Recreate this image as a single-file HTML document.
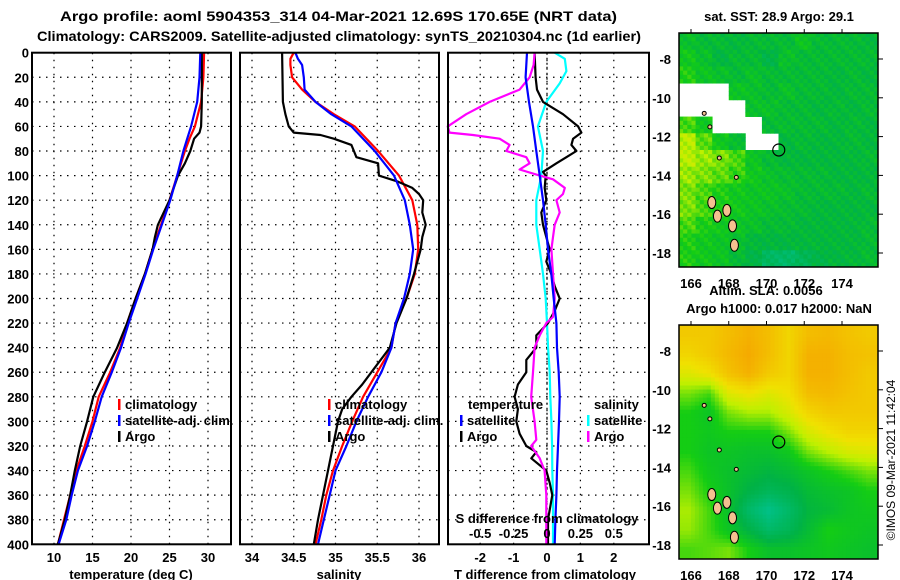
<!DOCTYPE html>
<html><head><meta charset="utf-8">
<style>
body{margin:0;background:#fff;}
svg{display:block;font-family:"Liberation Sans",Arial,sans-serif;font-weight:bold;}
text{font-size:13px;fill:#000;}
</style></head>
<body>
<svg id="chart" width="900" height="580" viewBox="0 0 900 580" xmlns="http://www.w3.org/2000/svg">
<text x="60" y="21" textLength="557" lengthAdjust="spacingAndGlyphs" style="font-size:14px">Argo profile: aoml 5904353_314 04-Mar-2021 12.69S 170.65E (NRT data)</text>
<text x="37" y="41" textLength="604" lengthAdjust="spacingAndGlyphs" style="font-size:14px">Climatology: CARS2009. Satellite-adjusted climatology: synTS_20210304.nc (1d earlier)</text>
<g id="panels"></g>
<g id="maps"></g>
<text transform="translate(895,460) rotate(-90)" text-anchor="middle" style="font-weight:normal;font-size:12px">©IMOS 09-Mar-2021 11:42:04</text>
</svg>
<script>
// ---- depth axis ----
const depthTicks=[0,20,40,60,80,100,120,140,160,180,200,220,240,260,280,300,320,340,360,380,400];
// ---- temperature panel data ----
const tempTicks=[10,15,20,25,30];
const tDepths=[0,20,40,60,70,80,90,100,120,140,160,180,200,220,240,260,280,300,320,340,360,380,400];
const tempClim=[29.5,29.4,29.1,28.3,27.6,27.0,26.5,26.0,25.0,23.9,22.8,21.8,20.6,19.5,18.6,17.3,15.8,15.0,14.0,12.9,12.1,11.3,10.5];
const tempSat=[29.0,28.9,28.6,27.8,27.3,26.8,26.4,26.0,25.1,24.0,22.9,21.9,20.8,19.7,18.7,17.5,16.2,15.3,14.3,13.1,12.3,11.6,10.6];
const tArgoDepths=[0,20,40,60,65,70,80,90,100,120,140,150,160,180,200,220,240,260,280,300,320,340,360,380,400];
const tempArgo=[29.2,29.2,29.2,29.1,28.9,28.2,27.7,27.0,26.1,25.0,23.5,23.1,22.8,21.8,20.6,19.5,18.2,16.6,15.1,14.3,13.4,12.7,12.1,11.4,10.5];
// ---- salinity panel data ----
const salTicks=[34,34.5,35,35.5,36];
const sDepths=[0,5,10,20,30,40,50,60,80,100,120,140,160,180,200,220,240,260,280,300,320,340,360,380,400];
const salClim=[34.5,34.46,34.46,34.48,34.6,34.76,34.98,35.23,35.51,35.76,35.92,35.98,35.99,35.95,35.85,35.72,35.67,35.5,35.33,35.2,35.08,34.97,34.89,34.83,34.76];
const salSat=[34.52,34.55,34.6,34.62,34.63,34.76,34.95,35.19,35.47,35.7,35.83,35.89,35.93,35.89,35.82,35.72,35.67,35.55,35.39,35.25,35.13,35.0,34.93,34.86,34.79];
const sArgoDepths=[0,40,50,60,65,67,70,75,80,85,90,100,105,110,115,120,130,140,150,160,180,200,220,240,260,270,280,290,300,320,340,360,380,400];
const salArgo=[34.36,34.37,34.4,34.44,34.5,34.82,34.98,35.19,35.22,35.25,35.51,35.52,35.75,35.92,36.0,36.05,36.04,36.08,36.04,36.02,35.94,35.85,35.73,35.65,35.43,35.32,35.19,35.08,35.03,34.97,34.91,34.85,34.79,34.74];
// ---- difference panel data ----
const dTTicks=[-2,-1,0,1,2];
const dSTicks=[-0.5,-0.25,0,0.25,0.5];
const dSLabels=["-0.5","-0.25","0","0.25","0.5"];
const dTSatDepths=[0,20,40,60,80,100,120,140,160,180,200,220,240,260,280,300,320,340,360,380,400];
const dTSat=[-0.6,-0.64,-0.54,-0.42,-0.32,-0.22,-0.12,-0.04,0.03,0.13,0.2,0.28,0.3,0.35,0.38,0.36,0.33,0.3,0.28,0.25,0.23];
const dTArgoDepths=[0,20,30,40,50,60,65,70,75,80,85,90,97,100,110,120,130,140,150,160,170,180,190,200,210,220,230,240,250,260,270,280,290,300,310,320,325,330,340,350,360,380,400];
const dTArgo=[-0.37,-0.34,-0.3,-0.12,0.48,0.93,1.03,0.78,0.73,0.88,0.58,0.28,-0.12,-0.04,-0.07,-0.02,-0.17,-0.12,-0.02,0.08,-0.02,0.13,0.23,0.38,0.23,0.03,-0.32,-0.32,-0.62,-0.62,-0.87,-0.97,-0.87,-0.92,-0.82,-0.62,-0.32,-0.47,-0.02,0.08,0.16,0.03,0.03];
const dSSatDepths=[0,5,15,25,40,60,80,100,120,140,160,180,200,220,240,260,280,300,320,340,360,380,400];
const dSSat=[0.058,0.133,0.145,0.095,-0.005,-0.068,-0.03,-0.043,-0.08,-0.08,-0.055,-0.03,-0.01,0,0.008,0.02,0.025,0.033,0.038,0.04,0.045,0.045,0.045];
const dSArgoDepths=[0,10,20,30,40,50,60,65,67,70,75,80,85,90,95,100,103,110,115,120,130,140,150,160,180,200,215,220,230,240,260,280,300,315,320,330,340,360,400];
const dSArgo=[-0.093,-0.1,-0.13,-0.205,-0.43,-0.605,-0.743,-0.73,-0.555,-0.355,-0.28,-0.305,-0.155,-0.13,-0.205,-0.055,0.045,0.133,0.12,0.07,0.095,0.058,0.045,0.033,0.045,0.058,0.045,-0.005,-0.055,-0.093,-0.105,-0.118,-0.093,-0.08,-0.118,-0.055,-0.018,-0.005,-0.005];
// ---- map data (rows north->south, cols west->east), -1 = no data ----
const mapLonTicks=[166,168,170,172,174];
const mapLatTicks=[-8,-10,-12,-14,-16,-18];
const sstGrid=[
[.38,.35,.35,.33,.35,.35,.35,.4,.35,.35,.35,.33],
[.42,.38,.32,.35,.35,.3,.38,.35,.35,.35,.35,.35],
[.45,.4,.38,.35,.38,.35,.35,.35,.35,.33,.35,.33],
[-1,-1,-1,.4,.38,.35,.38,.35,.35,.33,.35,.35],
[-1,-1,-1,-1,.38,.38,.35,.35,.33,.35,.33,.35],
[.5,.42,-1,-1,-1,.35,.36,.35,.35,.33,.35,.33],
[.62,.52,.42,.36,-1,-1,.33,.35,.33,.33,.35,.33],
[.62,.58,.55,.5,.4,.35,.33,.33,.33,.33,.33,.35],
[.58,.55,.52,.48,.42,.38,.36,.35,.35,.33,.33,.33],
[.55,.5,.45,.42,.4,.4,.38,.35,.35,.35,.33,.35],
[.55,.5,.45,.42,.4,.38,.36,.35,.33,.33,.33,.33],
[.5,.45,.42,.4,.38,.35,.35,.33,.33,.33,.33,.35],
[.45,.42,.4,.38,.33,.32,.32,.33,.33,.33,.33,.35],
[.45,.42,.4,.35,.3,.22,.2,.25,.3,.32,.33,.35]];
const slaGrid=[
[.85,.85,.9,.95,.9,.8,.9,.92,.88,.85],
[.8,.85,.92,.98,.9,.8,.95,.95,.9,.88],
[.7,.75,.88,.95,.85,.8,.95,.95,.9,.85],
[.55,.5,.7,.75,.7,.75,.9,.92,.88,.85],
[.45,.4,.55,.6,.6,.68,.8,.85,.85,.85],
[.45,.42,.45,.45,.45,.55,.68,.75,.8,.8],
[.45,.4,.4,.38,.38,.42,.55,.62,.68,.7],
[.5,.42,.38,.35,.32,.35,.4,.45,.5,.55],
[.55,.45,.38,.3,.25,.28,.35,.38,.4,.45],
[.6,.5,.38,.2,.1,.2,.32,.35,.4,.42],
[.58,.5,.4,.3,.2,.25,.35,.45,.42,.4],
[.5,.52,.55,.45,.38,.38,.4,.42,.4,.38]];
const argoLon=170.65, argoLat=-12.69;
const islandLons=[167.1,167.4,167.9,168.2,168.3,166.7,167.0,168.4,167.5];
const islandLats=[-15.4,-16.1,-15.8,-16.6,-17.6,-10.8,-11.5,-14.1,-13.1];

const NS="http://www.w3.org/2000/svg";
function mk(tag,attrs,parent){const e=document.createElementNS(NS,tag);for(const k in attrs)e.setAttribute(k,attrs[k]);parent.appendChild(e);return e;}
const root=document.getElementById('panels');
const Y0=52.7, Y1=544.3;
const yD=d=>Y0+(d/400)*(Y1-Y0);

function panel(name,x0,x1,dmin,dmax){
  const g=mk('g',{},root);
  
  
  const xs=v=>x0+(v-dmin)/(dmax-dmin)*(x1-x0);
  return {g,xs,x0,x1};
}
function frameGrid(p,xTicks,xs,showDepthLabels){
  depthTicks.forEach(d=>{
    if(d>0&&d<400){const l=mk('line',{x1:p.x0,x2:p.x1,y1:yD(d),y2:yD(d),stroke:'#000','stroke-width':1.2,'stroke-dasharray':'1.5 5.5'},p.g);
    }
    if(showDepthLabels){const t=mk('text',{x:29,y:yD(d)+5,'text-anchor':'end'},p.g);t.textContent=d;
    }
  });
  xTicks.forEach(v=>{
    const l=mk('line',{x1:xs(v),x2:xs(v),y1:Y0,y2:Y1,stroke:'#000','stroke-width':1.2,'stroke-dasharray':'1.5 5.5'},p.g);
    
  });
}
function line(p,xs,depths,vals,color,name){
  const pts=depths.map((d,i)=>xs(vals[i]).toFixed(1)+','+yD(d).toFixed(1)).join(' ');
  const pl=mk('polyline',{points:pts,fill:'none',stroke:color,'stroke-width':2.2,'stroke-linejoin':'round'},p.g);
  
}
function border(p){const r=mk('rect',{x:p.x0,y:Y0,width:p.x1-p.x0,height:Y1-Y0,fill:'none',stroke:'#000','stroke-width':2},p.g);
  }
function text(p,x,y,s,anchor,name){const t=mk('text',{x:x,y:y,'text-anchor':anchor||'start'},p.g);t.textContent=s;
  return t;}
function legend(p,x,y,color,label,name){
  const r=mk('rect',{x:x,y:y-10,width:2.5,height:11,fill:color},p.g);
  
  text(p,x+7,y,label,'start',name);
}

const tp=panel('temperature-panel',32,231,10-22/7.7,10+(231-54)/7.7);
frameGrid(tp,tempTicks,tp.xs,true);
line(tp,tp.xs,tDepths,tempClim,'#f00','temp-climatology-line');
line(tp,tp.xs,tArgoDepths,tempArgo,'#000','temp-argo-line');
line(tp,tp.xs,tDepths,tempSat,'#00f','temp-satellite-line');
tempTicks.forEach(v=>text(tp,tp.xs(v),562,v,'middle','temp-tick-label'));
text(tp,131,579,'temperature (deg C)','middle','temp-axis-title');
legend(tp,118,409,'#f00','climatology','legend-climatology');
legend(tp,118,425,'#00f','satellite-adj. clim.','legend-satellite-adj');
legend(tp,118,441,'#000','Argo','legend-argo');
border(tp);

const sp=panel('salinity-panel',240,439,34-12/83.5,34+(439-252)/83.5);
frameGrid(sp,salTicks,sp.xs,false);
line(sp,sp.xs,sDepths,salClim,'#f00','sal-climatology-line');
line(sp,sp.xs,sArgoDepths,salArgo,'#000','sal-argo-line');
line(sp,sp.xs,sDepths,salSat,'#00f','sal-satellite-line');
salTicks.forEach(v=>text(sp,sp.xs(v),562,v,'middle','sal-tick-label'));
text(sp,339,579,'salinity','middle','sal-axis-title');
legend(sp,328,409,'#f00','climatology','legend-climatology');
legend(sp,328,425,'#00f','satellite-adj. clim.','legend-satellite-adj');
legend(sp,328,441,'#000','Argo','legend-argo');
border(sp);

const dp=panel('difference-panel',448,649,(448-547)/33.4,(649-547)/33.4);
const xsS=v=>dp.xs(v*4);
frameGrid(dp,dTTicks,dp.xs,false);
const zl=mk('line',{x1:dp.xs(0),x2:dp.xs(0),y1:Y0,y2:Y1,stroke:'#000','stroke-width':1.2,'stroke-dasharray':'2 3'},dp.g);

line(dp,xsS,dSSatDepths,dSSat,'#0ff','sdiff-satellite-line');
line(dp,dp.xs,dTArgoDepths,dTArgo,'#000','tdiff-argo-line');
line(dp,xsS,dSArgoDepths,dSArgo,'#f0f','sdiff-argo-line');
line(dp,dp.xs,dTSatDepths,dTSat,'#00f','tdiff-satellite-line');
dTTicks.forEach(v=>text(dp,dp.xs(v),562,v,'middle','tdiff-tick-label'));
text(dp,545,579,'T difference from climatology','middle','tdiff-axis-title');
dSTicks.forEach((v,i)=>text(dp,xsS(v),538,dSLabels[i],'middle','sdiff-tick-label'));
text(dp,547,523,'S difference from climatology','middle','sdiff-axis-title');
text(dp,468,409,'temperature','start','legend-temperature-header');
legend(dp,460,425,'#00f','satellite','legend-tdiff-satellite');
legend(dp,460,441,'#000','Argo','legend-tdiff-argo');
text(dp,594,409,'salinity','start','legend-salinity-header');
legend(dp,587,425,'#0ff','satellite','legend-sdiff-satellite');
legend(dp,587,441,'#f0f','Argo','legend-sdiff-argo');
border(dp);

const mroot=document.getElementById('maps');
const stops=[[0,[0,200,170]],[0.3,[0,178,70]],[0.45,[20,205,20]],[0.62,[190,240,0]],[0.75,[240,225,0]],[1,[245,165,0]]];
function cmap(v){
  v=Math.max(0,Math.min(1,v));
  for(let i=1;i<stops.length;i++){if(v<=stops[i][0]){const a=stops[i-1],b=stops[i];const t=(v-a[0])/(b[0]-a[0]);
    return 'rgb('+a[1].map((c,k)=>Math.round(c+(b[1][k]-c)*t)).join(',')+')';}}
  return 'rgb(245,165,0)';
}
function drawMap(name,grid,top,title1,title2,smooth){
  const g=mk('g',{},mroot);
  
  
  const x0=679,x1=878,y0=top,y1=top+234;
  const lonX=lon=>691+(lon-166)*18.875;
  const latY=lat=>y0+26+(-8-lat)*19.4;
  const R=grid.length,C=grid[0].length;
  const nx=smooth?50:C*4, ny=smooth?58:R*4;
  const cw=(x1-x0)/nx, ch=(y1-y0)/ny;
  for(let j=0;j<ny;j++)for(let i=0;i<nx;i++){
    const fx=(i+0.5)/nx*C-0.5, fy=(j+0.5)/ny*R-0.5;
    let v;
    if(smooth){
      const ix=Math.max(0,Math.min(C-2,Math.floor(fx))), iy=Math.max(0,Math.min(R-2,Math.floor(fy)));
      const tx=Math.max(0,Math.min(1,fx-ix)), ty=Math.max(0,Math.min(1,fy-iy));
      v=grid[iy][ix]*(1-tx)*(1-ty)+grid[iy][ix+1]*tx*(1-ty)+grid[iy+1][ix]*(1-tx)*ty+grid[iy+1][ix+1]*tx*ty;
    } else {
      v=grid[Math.floor((j/ny)*R)][Math.floor((i/nx)*C)];
      if(v>=0) v+=(((i*7+j*13)%5)-2)*0.02;
    }
    if(v<0) continue;
    const r=mk('rect',{x:(x0+i*cw).toFixed(2),y:(y0+j*ch).toFixed(2),width:(cw+0.4).toFixed(2),height:(ch+0.4).toFixed(2),fill:cmap(v)},g);
    
    
  }
  islandLons.forEach((lon,k)=>{
    const e=mk('ellipse',{cx:lonX(islandLons[k]),cy:latY(islandLats[k]),rx:k<5?4:2,ry:k<5?6:2,fill:'#f5c090',stroke:'#000','stroke-width':1},g);
    
  });
  const c=mk('circle',{cx:lonX(argoLon),cy:latY(argoLat),r:6,fill:'none',stroke:'#000','stroke-width':1.2},g);
  
  const fr=mk('rect',{x:x0,y:y0,width:x1-x0,height:y1-y0,fill:'none',stroke:'#000','stroke-width':1.5},g);
  
  mapLatTicks.forEach(lat=>{
    const t=mk('text',{x:671,y:latY(lat)+5,'text-anchor':'end'},g);t.textContent=lat;
    
    const tk=mk('line',{x1:x1,x2:x1+5,y1:latY(lat),y2:latY(lat),stroke:'#000'},g);
    
  });
  mapLonTicks.forEach(lon=>{
    const t=mk('text',{x:lonX(lon),y:y1+21,'text-anchor':'middle'},g);t.textContent=lon;
    
    const tk=mk('line',{x1:lonX(lon),x2:lonX(lon),y1:y0-4,y2:y0,stroke:'#000'},g);
    
  });
  if(title1){const t=mk('text',{x:766,y:top-30,'text-anchor':'middle'},g);t.textContent=title1;
    }
  const t2=mk('text',{x:779,y:top-12,'text-anchor':'middle'},g);t2.textContent=title2;
  
}
drawMap('sst-map',sstGrid,33,null,'sat. SST: 28.9 Argo: 29.1',false);
drawMap('sla-map',slaGrid,325,'Altim. SLA: 0.0056','Argo h1000: 0.017 h2000: NaN',true);
</script>
</body></html>
